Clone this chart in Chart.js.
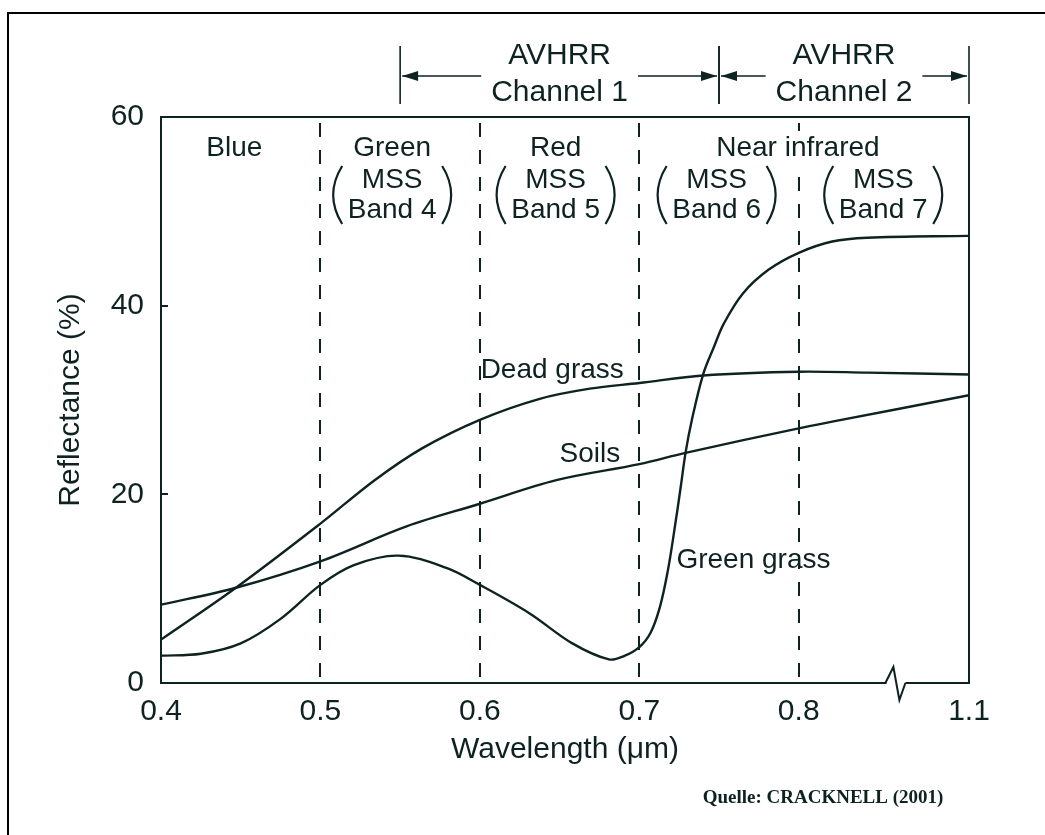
<!DOCTYPE html>
<html>
<head>
<meta charset="utf-8">
<title>Spectral reflectance</title>
<script src="https://cdn.jsdelivr.net/npm/chart.js@4.4.1/dist/chart.umd.min.js"></script>
<style>
  html, body { margin: 0; padding: 0; background: #fff; }
  canvas { display: block; }
</style>
</head>
<body>
<canvas id="reflectance" width="1045" height="835"></canvas>
<script>
// wavelength axis in µm, broken between 0.86 and 1.1
const xTicks = [0.4, 0.5, 0.6, 0.7, 0.8, 1.1];
const xTickLabels = ['0.4', '0.5', '0.6', '0.7', '0.8', '1.1'];
const yTicks = [0, 20, 40, 60];
const bandEdges = [0.5, 0.6, 0.7, 0.8];

// reflectance curves (%)
const greenGrassWl = [0.40, 0.425, 0.45, 0.475, 0.50, 0.521, 0.549, 0.579, 0.60, 0.631, 0.658, 0.681, 0.691, 0.70, 0.707, 0.713, 0.718, 0.722, 0.726, 0.729, 0.733, 0.740, 0.747, 0.753, 0.765, 0.781, 0.80, 0.821, 0.843, 1.10];
const greenGrass   = [2.9, 3.1, 4.2, 6.8, 10.4, 12.5, 13.5, 12.2, 10.4, 7.4, 4.2, 2.5, 2.9, 3.8, 5.3, 8.1, 12.0, 16.2, 20.8, 24.4, 27.9, 32.7, 35.7, 38.1, 41.3, 43.8, 45.6, 46.8, 47.2, 47.4];

const deadGrassWl = [0.40, 0.447, 0.50, 0.534, 0.564, 0.60, 0.637, 0.669, 0.70, 0.740, 0.80, 0.843, 1.10];
const deadGrass   = [4.6, 10.1, 16.9, 21.5, 24.9, 27.9, 30.1, 31.2, 31.8, 32.6, 33.0, 32.9, 32.7];

const soilsWl = [0.40, 0.447, 0.50, 0.554, 0.60, 0.648, 0.70, 0.729, 0.80, 0.821, 1.10];
const soils   = [8.3, 10.1, 12.9, 16.6, 19.0, 21.5, 23.2, 24.4, 27.0, 27.7, 30.5];

const ink = '#0e2222';
const sans = '"Liberation Sans", Arial, Helvetica, sans-serif';

const BREAK_AT = 0.86;
const BREAK_SQUEEZE = 0.195; // 0.86 - 1.1 is drawn at about a fifth of the normal width

function toAxis(w) {
  return w <= BREAK_AT ? w : BREAK_AT + (w - BREAK_AT) * BREAK_SQUEEZE;
}

function points(wl, vals) {
  return wl.map((w, i) => ({ x: toAxis(w), y: vals[i] }));
}

// labels written onto the plot
const curveLabels = [
  { text: 'Dead grass', x: 0.6454, y: 33.2 },
  { text: 'Soils', x: 0.669, y: 24.2 },
  { text: 'Green grass', x: 0.7716, y: 13.0 }
];
const bandNames = [
  { text: 'Blue', x: 0.446 },
  { text: 'Green', x: 0.545 },
  { text: 'Red', x: 0.6475 },
  { text: 'Near infrared', x: 0.7995 }
];
const mssBands = [
  { band: 'Band 4', x: 0.545 },
  { band: 'Band 5', x: 0.6475 },
  { band: 'Band 6', x: 0.7485 },
  { band: 'Band 7', x: 0.853 }
];
const avhrr = [
  { name: 'Channel 1', from: 0.55, to: 0.75 },
  { name: 'Channel 2', from: 0.75, to: 1.1 }
];

function arrowHead(ctx, x, y, dir) {
  ctx.beginPath();
  ctx.moveTo(x, y);
  ctx.lineTo(x - dir * 16, y - 5);
  ctx.lineTo(x - dir * 16, y + 5);
  ctx.closePath();
  ctx.fill();
}

function paren(ctx, x, top, bottom, dir) {
  // dir -1 = "(", +1 = ")"
  ctx.beginPath();
  ctx.moveTo(x, top);
  ctx.quadraticCurveTo(x + dir * 18, (top + bottom) / 2, x, bottom);
  ctx.stroke();
}

const figureDecor = {
  id: 'figureDecor',
  beforeDatasetsDraw(chart) {
    const { ctx, chartArea: a, scales: { x } } = chart;
    ctx.save();
    ctx.strokeStyle = ink;
    ctx.lineWidth = 2;
    ctx.setLineDash([14, 13]);
    bandEdges.forEach(w => {
      const px = Math.round(x.getPixelForValue(toAxis(w)));
      ctx.beginPath();
      ctx.moveTo(px, a.top + 6);
      ctx.lineTo(px, a.bottom);
      ctx.stroke();
    });
    ctx.restore();
  },
  afterDraw(chart) {
    const { ctx, chartArea: a, scales: { x, y } } = chart;
    ctx.save();
    ctx.strokeStyle = ink;
    ctx.fillStyle = ink;
    ctx.lineWidth = 2;

    // top and right sides of the plot frame
    ctx.beginPath();
    ctx.moveTo(a.left, a.top);
    ctx.lineTo(a.right, a.top);
    ctx.lineTo(a.right, a.bottom);
    ctx.stroke();

    // short inward ticks on the reflectance axis
    yTicks.slice(1, -1).forEach(v => {
      const py = Math.round(y.getPixelForValue(v));
      ctx.beginPath();
      ctx.moveTo(a.left, py);
      ctx.lineTo(a.left + 7, py);
      ctx.stroke();
    });

    // axis break
    const bx = x.getPixelForValue(BREAK_AT);
    ctx.fillStyle = '#fff';
    ctx.fillRect(bx - 8, a.bottom - 3, 19, 6);
    ctx.fillStyle = ink;
    ctx.beginPath();
    ctx.moveTo(bx - 9, a.bottom);
    ctx.lineTo(bx - 1, a.bottom - 16);
    ctx.lineTo(bx + 5, a.bottom + 17);
    ctx.lineTo(bx + 11, a.bottom);
    ctx.stroke();

    // curve names
    ctx.font = '28px ' + sans;
    ctx.textAlign = 'center';
    ctx.textBaseline = 'middle';
    curveLabels.forEach(l => {
      ctx.fillText(l.text, x.getPixelForValue(l.x), y.getPixelForValue(l.y));
    });

    // spectral band names along the top of the plot
    bandNames.forEach(l => {
      const px = x.getPixelForValue(l.x);
      const w = ctx.measureText(l.text).width;
      ctx.fillStyle = '#fff';
      ctx.fillRect(px - w / 2 - 4, a.top + 14, w + 8, 34);
      ctx.fillStyle = ink;
      ctx.fillText(l.text, px, a.top + 31);
    });
    mssBands.forEach(l => {
      const px = x.getPixelForValue(l.x);
      ctx.fillText('MSS', px, a.top + 63);
      ctx.fillText(l.band, px, a.top + 93);
      ctx.lineWidth = 2.2;
      paren(ctx, px - 50, a.top + 49, a.top + 107, -1);
      paren(ctx, px + 50, a.top + 49, a.top + 107, 1);
    });

    // AVHRR channel spans above the frame
    ctx.font = '30px ' + sans;
    ctx.lineWidth = 1.6;
    avhrr.forEach(c => {
      const x0 = x.getPixelForValue(toAxis(c.from));
      const x1 = x.getPixelForValue(toAxis(c.to));
      const mid = (x0 + x1) / 2;
      const half = ctx.measureText(c.name).width / 2;
      ctx.fillText('AVHRR', mid, 56);
      ctx.fillText(c.name, mid, 93);
      [x0, x1].forEach(px => {
        ctx.beginPath();
        ctx.moveTo(px, 46);
        ctx.lineTo(px, 104);
        ctx.stroke();
      });
      ctx.beginPath();
      ctx.moveTo(x0 + 2, 76);
      ctx.lineTo(mid - half - 10, 76);
      ctx.moveTo(mid + half + 10, 76);
      ctx.lineTo(x1 - 2, 76);
      ctx.stroke();
      arrowHead(ctx, x0 + 2, 76, -1);
      arrowHead(ctx, x1 - 2, 76, 1);
    });

    // source line
    ctx.font = 'bold 19px "Liberation Serif", "Times New Roman", serif';
    ctx.fillText('Quelle: CRACKNELL (2001)', 823, 798);

    // page frame
    ctx.strokeStyle = '#000';
    ctx.lineWidth = 2;
    ctx.beginPath();
    ctx.moveTo(8, 835);
    ctx.lineTo(8, 13);
    ctx.lineTo(1045, 13);
    ctx.stroke();
    ctx.restore();
  }
};

const lineStyle = {
  borderColor: ink,
  borderWidth: 2.4,
  pointRadius: 0,
  fill: false,
  tension: 0.35
};

new Chart(document.getElementById('reflectance'), {
  type: 'line',
  data: {
    datasets: [
      Object.assign({ label: 'Green grass', data: points(greenGrassWl, greenGrass) }, lineStyle),
      Object.assign({ label: 'Dead grass', data: points(deadGrassWl, deadGrass) }, lineStyle),
      Object.assign({ label: 'Soils', data: points(soilsWl, soils) }, lineStyle)
    ]
  },
  options: {
    responsive: false,
    animation: false,
    layout: { padding: { top: 117, right: 76, left: 0, bottom: 0 } },
    plugins: {
      legend: { display: false },
      tooltip: { enabled: false }
    },
    scales: {
      x: {
        type: 'linear',
        min: 0.4,
        max: toAxis(1.1),
        afterBuildTicks: s => { s.ticks = xTicks.map(w => ({ value: toAxis(w) })); },
        afterFit: s => { s.height = 152; },
        grid: { display: false },
        border: { color: ink, width: 2 },
        ticks: {
          autoSkip: false,
          maxRotation: 0,
          padding: 3,
          color: ink,
          font: { family: sans, size: 30 },
          callback: (v, i) => xTickLabels[i]
        },
        title: {
          display: true,
          text: 'Wavelength (μm)',
          color: ink,
          font: { family: sans, size: 30 },
          padding: { top: 0, bottom: 67 }
        }
      },
      y: {
        min: 0,
        max: 60,
        afterBuildTicks: s => { s.ticks = yTicks.map(v => ({ value: v })); },
        afterFit: s => { s.width = 161; },
        grid: { display: false },
        border: { color: ink, width: 2 },
        ticks: {
          padding: 9,
          color: ink,
          font: { family: sans, size: 30 }
        },
        title: {
          display: true,
          text: 'Reflectance (%)',
          color: ink,
          font: { family: sans, size: 30 },
          padding: { top: 53, bottom: 0 }
        }
      }
    }
  },
  plugins: [figureDecor]
});
</script>
</body>
</html>
